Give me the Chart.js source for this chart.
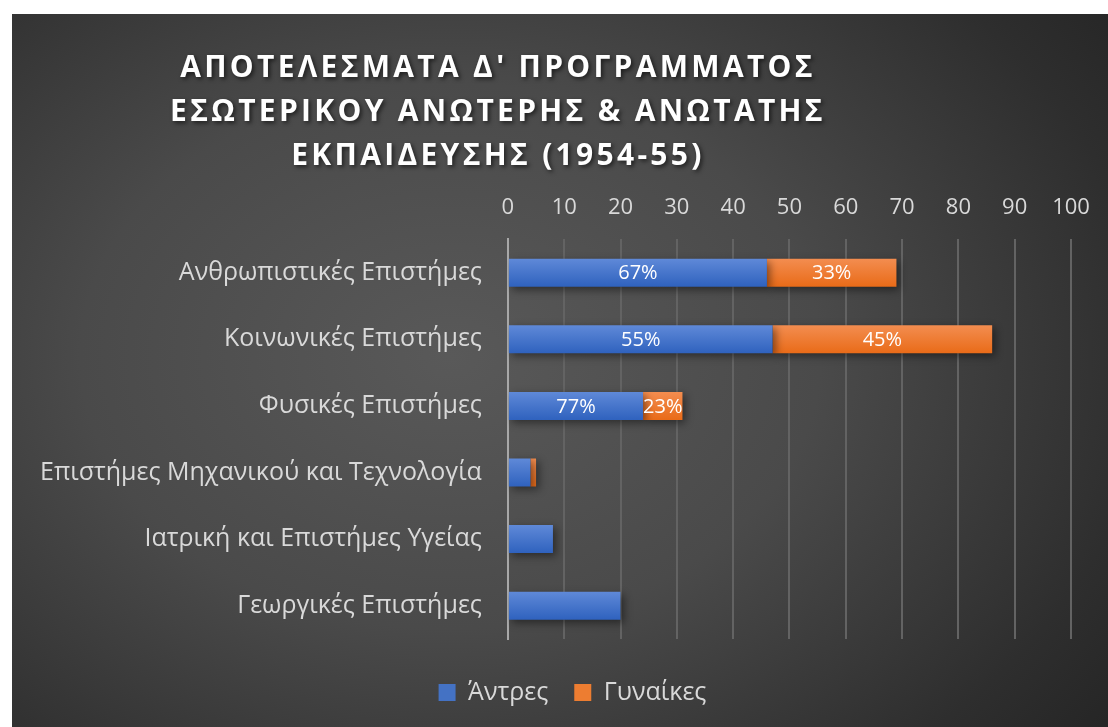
<!DOCTYPE html>
<html>
<head>
<meta charset="utf-8">
<script src="https://cdn.jsdelivr.net/npm/chart.js@4"></script>
<style>
  html, body { margin: 0; padding: 0; background: #fff; }
  #card {
    position: absolute; left: 12px; top: 14px; width: 1096px; height: 713px;
    background: radial-gradient(ellipse 75% 85% at 40% 48%, #595959 0%, #4a4a4a 45%, #2e2e2e 85%, #262626 100%);
  }
</style>
</head>
<body>
<div id="card"><canvas id="chart" width="1096" height="713"></canvas></div>
<script>
// κατηγορίες και τιμές
const categories = [
  'Ανθρωπιστικές Επιστήμες',
  'Κοινωνικές Επιστήμες',
  'Φυσικές Επιστήμες',
  'Επιστήμες Μηχανικού και Τεχνολογία',
  'Ιατρική και Επιστήμες Υγείας',
  'Γεωργικές Επιστήμες'
];
const men = [46, 47, 24, 4, 8, 20];
const women = [23, 39, 7, 1, 0, 0];
const menLabels = ['67%', '55%', '77%', '', '', ''];
const womenLabels = ['33%', '45%', '23%', '', '', ''];
const xTicks = [0, 10, 20, 30, 40, 50, 60, 70, 80, 90, 100];
const titleLines = [
  "ΑΠΟΤΕΛΕΣΜΑΤΑ Δ' ΠΡΟΓΡΑΜΜΑΤΟΣ",
  'ΕΣΩΤΕΡΙΚΟΥ ΑΝΩΤΕΡΗΣ & ΑΝΩΤΑΤΗΣ',
  'ΕΚΠΑΙΔΕΥΣΗΣ (1954-55)'
];

const FONT = '"Open Sans", sans-serif';

function barGradient(top, bottom) {
  return function (context) {
    const chart = context.chart;
    if (!chart.chartArea || !chart.scales.y) return top;
    const y = chart.scales.y.getPixelForValue(context.dataIndex);
    const g = chart.ctx.createLinearGradient(0, y - 14, 0, y + 14);
    g.addColorStop(0, top);
    g.addColorStop(1, bottom);
    return g;
  };
}

const titlePlugin = {
  id: 'bigTitle',
  afterDraw(chart) {
    const ctx = chart.ctx;
    ctx.save();
    ctx.font = 'bold 30px ' + FONT;
    ctx.fillStyle = '#ffffff';
    ctx.textAlign = 'center';
    ctx.textBaseline = 'middle';
    ctx.letterSpacing = '3.3px';
    ctx.shadowColor = 'rgba(0,0,0,0.6)';
    ctx.shadowBlur = 4;
    ctx.shadowOffsetX = 2;
    ctx.shadowOffsetY = 2;
    const ys = [54, 98, 142];
    titleLines.forEach((t, i) => ctx.fillText(t, 486, ys[i]));
    ctx.restore();
  }
};

const shadowPlugin = {
  id: 'barShadow',
  beforeDatasetsDraw(chart) {
    const ctx = chart.ctx;
    ctx.save();
    ctx.shadowColor = 'rgba(0,0,0,0.45)';
    ctx.shadowBlur = 8;
    ctx.shadowOffsetX = 3;
    ctx.shadowOffsetY = 3;
  },
  afterDatasetsDraw(chart) {
    chart.ctx.restore();
  }
};

const labelPlugin = {
  id: 'barLabels',
  afterDatasetsDraw(chart) {
    const ctx = chart.ctx;
    const lists = [menLabels, womenLabels];
    ctx.save();
    ctx.font = '20px ' + FONT;
    ctx.fillStyle = '#ffffff';
    ctx.textAlign = 'center';
    ctx.textBaseline = 'middle';
    chart.data.datasets.forEach((ds, di) => {
      chart.getDatasetMeta(di).data.forEach((bar, i) => {
        const txt = lists[di][i];
        if (!txt) return;
        ctx.fillText(txt, (bar.x + bar.base) / 2, bar.y + 1);
      });
    });
    ctx.restore();
  }
};

// το υπόμνημα λίγο δεξιότερα, όπως στο πρωτότυπο
const legendShift = {
  id: 'legendShift',
  afterLayout(chart) {
    if (chart.legend) chart.legend.left += 60;
  }
};

new Chart(document.getElementById('chart'), {
  type: 'bar',
  data: {
    labels: categories,
    datasets: [{
      label: 'Άντρες',
      data: men,
      backgroundColor: barGradient('#5f89d8', '#2f62be'),
      barPercentage: 0.42,
      categoryPercentage: 1
    }, {
      label: 'Γυναίκες',
      data: women,
      backgroundColor: barGradient('#f38d50', '#e96b18'),
      barPercentage: 0.42,
      categoryPercentage: 1
    }]
  },
  options: {
    indexAxis: 'y',
    responsive: false,
    animation: false,
    layout: { padding: { top: 163, right: 37, bottom: 12, left: 2 } },
    scales: {
      x: {
        position: 'top',
        stacked: true,
        min: 0,
        max: 100,
        afterBuildTicks(axis) { axis.ticks = xTicks.map(v => ({ value: v })); },
        grid: { color: '#636363', lineWidth: 2, drawTicks: false },
        border: { display: false },
        ticks: { color: '#d9d9d9', font: { family: FONT, size: 22 }, padding: 18 }
      },
      // κενό ανάμεσα στο γράφημα και το υπόμνημα
      gap: {
        type: 'linear',
        position: 'bottom',
        display: true,
        grid: { display: false, drawTicks: false },
        border: { display: false },
        ticks: { display: false },
        afterFit(scale) { scale.height = 15; }
      },
      y: {
        stacked: true,
        grid: { display: false, drawTicks: false },
        border: { color: '#a8a8a8', width: 2 },
        ticks: { color: '#d9d9d9', font: { family: FONT, size: 25 }, padding: 26 }
      }
    },
    plugins: {
      legend: {
        position: 'bottom',
        labels: {
          color: '#d9d9d9',
          font: { family: FONT, size: 25 },
          boxWidth: 17,
          boxHeight: 17,
          padding: 26,
          generateLabels(chart) {
            const cols = ['#4472c4', '#ed7d31'];
            return chart.data.datasets.map((ds, i) => ({
              text: ds.label, fillStyle: cols[i], strokeStyle: cols[i],
              lineWidth: 0, datasetIndex: i, fontColor: '#d9d9d9'
            }));
          }
        }
      },
      tooltip: { enabled: false }
    }
  },
  plugins: [titlePlugin, shadowPlugin, labelPlugin, legendShift]
});
</script>
</body>
</html>
